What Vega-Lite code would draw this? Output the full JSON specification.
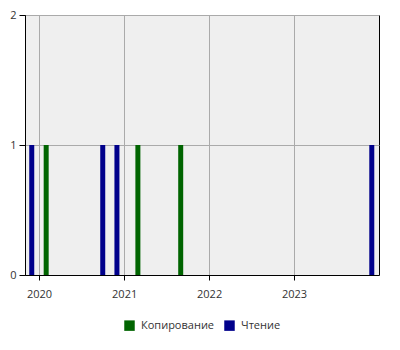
{
  "$schema": "https://vega.github.io/schema/vega-lite/v6.json",
  "autosize": "none",
  "width": 354,
  "height": 260,
  "padding": {"left": 25, "top": 15, "right": 21, "bottom": 75},
  "background": "white",
  "data": {
    "values": [
      {"date": "2019-12-01", "type": "Чтение", "count": 1},
      {"date": "2020-02-01", "type": "Копирование", "count": 1},
      {"date": "2020-10-01", "type": "Чтение", "count": 1},
      {"date": "2020-12-01", "type": "Чтение", "count": 1},
      {"date": "2021-03-01", "type": "Копирование", "count": 1},
      {"date": "2021-09-01", "type": "Копирование", "count": 1},
      {"date": "2023-12-01", "type": "Чтение", "count": 1}
    ]
  },
  "mark": {"type": "bar", "width": 5},
  "encoding": {
    "x": {
      "field": "date",
      "type": "temporal",
      "scale": {"domain": ["2019-11-02", "2024-01-01"], "padding": 0, "nice": false},
      "axis": {
        "title": null,
        "format": "%Y",
        "values": ["2020-01-01", "2021-01-01", "2022-01-01", "2023-01-01"],
        "labelAngle": 0,
        "labelPadding": 8,
        "tickSize": 5,
        "labelFlush": false,
        "grid": true
      }
    },
    "y": {
      "field": "count",
      "type": "quantitative",
      "scale": {"domain": [0, 2], "nice": false, "padding": 0},
      "axis": {"title": null, "tickCount": 2, "tickMinStep": 1, "format": "d", "tickSize": 6, "labelPadding": 3, "grid": true}
    },
    "color": {
      "field": "type",
      "type": "nominal",
      "scale": {"domain": ["Копирование", "Чтение"], "range": ["#006400", "#00008B"]},
      "legend": {
        "title": null,
        "orient": "none",
        "direction": "horizontal",
        "legendX": 99,
        "legendY": 305,
        "symbolType": "square",
        "symbolSize": 110,
        "symbolStrokeWidth": 0,
        "symbolOpacity": 1,
        "labelFontSize": 11,
        "labelColor": "#333333",
        "labelFont": "Open Sans",
        "columnPadding": 9,
        "labelOffset": 6
      }
    }
  },
  "config": {
    "view": {"fill": "#efefef", "stroke": "black", "strokeWidth": 1},
    "axis": {
      "domainColor": "black",
      "tickColor": "black",
      "gridColor": "#aaaaaa",
      "gridOpacity": 1,
      "labelFont": "Open Sans",
      "labelFontSize": 11,
      "labelColor": "#333333"
    }
  }
}
